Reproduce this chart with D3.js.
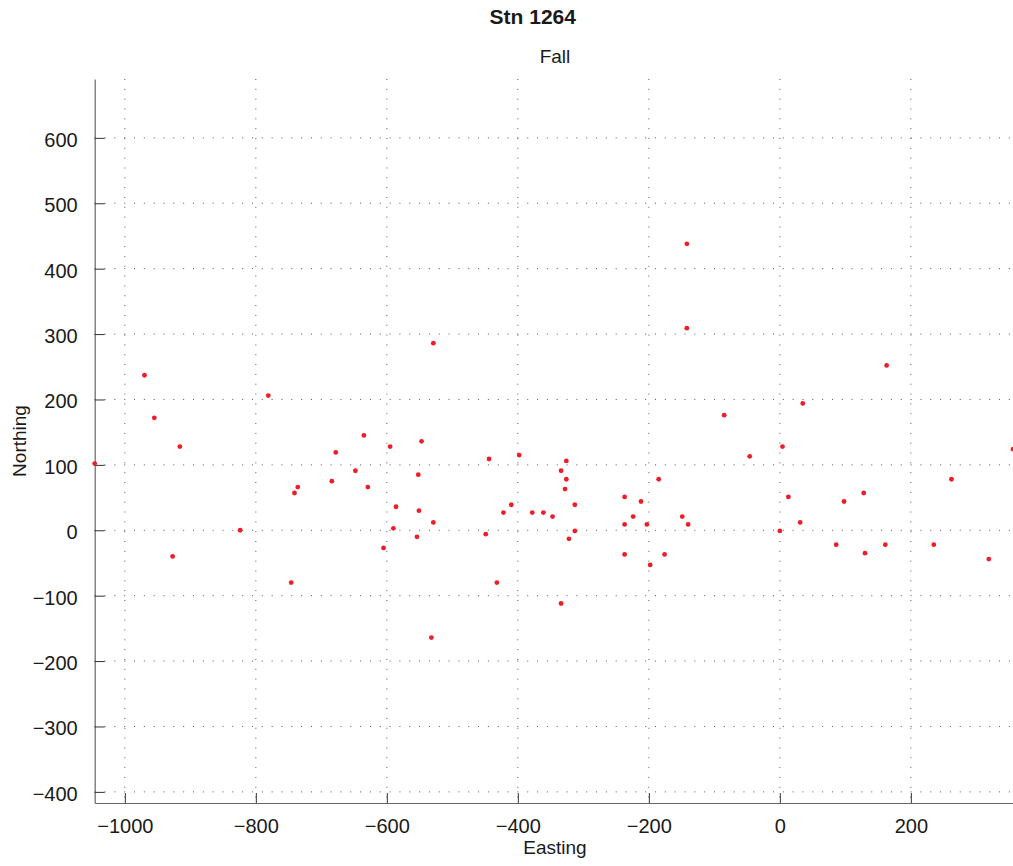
<!DOCTYPE html>
<html>
<head>
<meta charset="utf-8">
<script src="https://cdn.jsdelivr.net/npm/d3@7"></script>
<style>
  html, body { margin: 0; padding: 0; background: #fff; overflow: hidden; }
  text { font-family: "Liberation Sans", Arial, Helvetica, sans-serif; fill: #1a1a1a; }
</style>
</head>
<body>
<script>
// Station 1264, fall positions (metres)
const easting = [
  -1046, -970, -955, -916, -927, -824, -781, -746, -741, -736,
  -684, -678, -648, -635, -629, -605, -595, -590, -586, -554,
  -552, -551, -547, -532, -529, -529, -449, -444, -432, -422,
  -410, -398, -378, -361, -347, -334, -334, -328, -326, -326,
  -322, -313, -313, -237, -237, -237, -224, -212, -203, -198,
  -185, -176, -149, -142, -142, -140, -85, -46, 0, 4,
  13, 31, 35, 86, 98, 128, 130, 161, 163, 235,
  262, 319, 356
];
const northing = [
  102, 237, 172, 128, -40, 0, 206, -80, 57, 66,
  75, 119, 91, 145, 66, -27, 128, 3, 36, -10,
  85, 30, 136, -164, 286, 12, -6, 109, -80, 27,
  39, 115, 27, 27, 21, 91, -112, 63, 106, 78,
  -13, 39, -1, 51, 9, -37, 21, 44, 9, -53,
  78, -37, 21, 309, 438, 9, 176, 113, -1, 128,
  51, 12, 194, -22, 44, 57, -35, -22, 252, -22,
  78, -44, 124
];
const xTicks = [-1000, -800, -600, -400, -200, 0, 200];
const yTicks = [-400, -300, -200, -100, 0, 100, 200, 300, 400, 500, 600];
const xDomain = [-1046, 359];
const yDomain = [-417, 690];

const W = 1013, H = 866;
const plot = { left: 94.7, right: 1015, top: 79, bottom: 803 };

const svg = d3.select("body").append("svg")
  .attr("width", W).attr("height", H);

const x = d3.scaleLinear().domain(xDomain).range([plot.left, plot.right]);
const y = d3.scaleLinear().domain(yDomain).range([plot.bottom, plot.top]);

const fmt = v => (v < 0 ? "\u2212" + Math.abs(v) : String(v));

// dotted grid
const grid = svg.append("g").attr("stroke", "#555").attr("stroke-width", 1)
  .attr("stroke-dasharray", "1 8.83");
grid.selectAll("line.v").data(xTicks).join("line")
  .attr("class", "v")
  .attr("x1", d => x(d)).attr("x2", d => x(d))
  .attr("y1", plot.top).attr("y2", plot.bottom);
grid.selectAll("line.h").data(yTicks).join("line")
  .attr("class", "h")
  .attr("x1", plot.left).attr("x2", plot.right)
  .attr("y1", d => y(d)).attr("y2", d => y(d));

// axes with inward ticks
const xAxis = d3.axisBottom(x).tickValues(xTicks).tickSizeInner(-10).tickSizeOuter(0)
  .tickPadding(16).tickFormat(fmt);
const yAxis = d3.axisLeft(y).tickValues(yTicks).tickSizeInner(-10).tickSizeOuter(0)
  .tickPadding(17).tickFormat(fmt);

const gx = svg.append("g").attr("transform", `translate(0,${plot.bottom})`).call(xAxis);
const gy = svg.append("g").attr("transform", `translate(${plot.left},0)`).call(yAxis);

[gx, gy].forEach(g => {
  g.select(".domain").attr("stroke", "#666").attr("stroke-width", 1.2);
  g.selectAll(".tick line").attr("stroke", "#333").attr("stroke-width", 1);
  g.selectAll(".tick text")
    .style("font-family", '"Liberation Sans", Arial, sans-serif')
    .style("font-size", "20px").attr("fill", "#1a1a1a");
});
gy.selectAll(".tick text").attr("dy", "0.42em");
gx.selectAll(".tick text").attr("dy", "0.71em");

// points
svg.append("g").selectAll("circle")
  .data(easting.map((e, i) => [e, northing[i]]))
  .join("circle")
  .attr("cx", d => x(d[0]))
  .attr("cy", d => y(d[1]))
  .attr("r", 2.4)
  .attr("fill", "#ef1d27");

// titles and axis labels
svg.append("text").attr("x", 532.8).attr("y", 24)
  .attr("text-anchor", "middle").style("font-size", "21px").style("font-weight", "bold")
  .text("Stn 1264");
svg.append("text").attr("x", 555).attr("y", 62.5)
  .attr("text-anchor", "middle").style("font-size", "19px")
  .text("Fall");
svg.append("text").attr("x", 555).attr("y", 854)
  .attr("text-anchor", "middle").style("font-size", "19px")
  .text("Easting");
svg.append("text")
  .attr("transform", `translate(26,${(plot.top + plot.bottom) / 2}) rotate(-90)`)
  .attr("text-anchor", "middle").style("font-size", "19px")
  .text("Northing");
</script>
</body>
</html>
